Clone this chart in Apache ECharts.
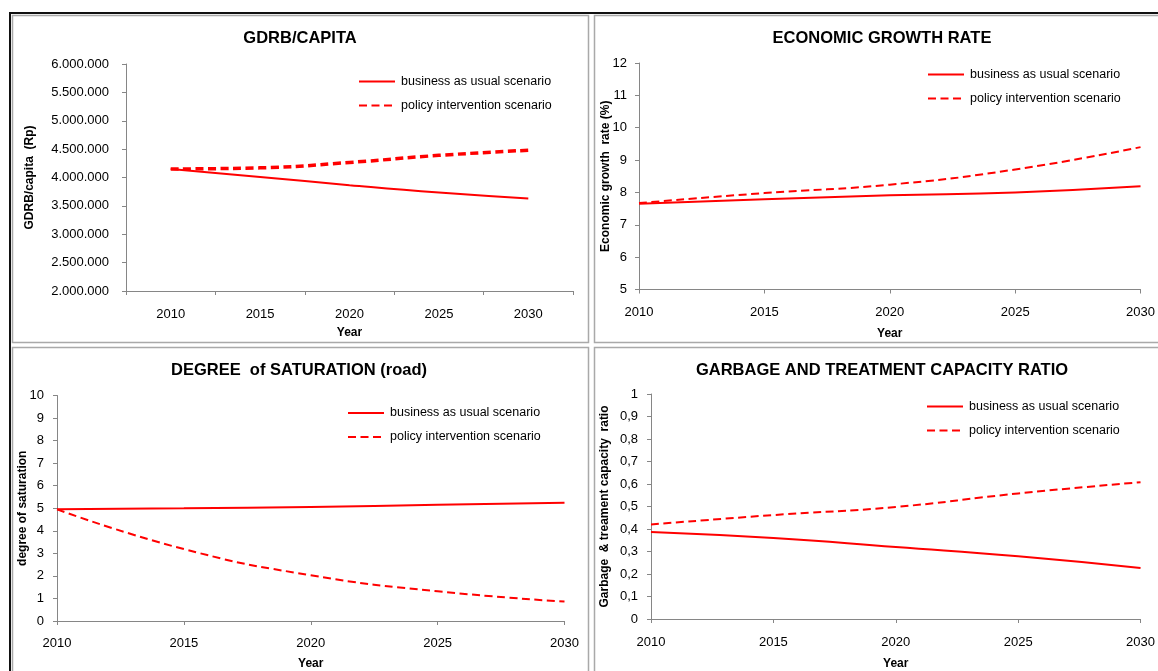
<!DOCTYPE html>
<html>
<head>
<meta charset="utf-8">
<script src="https://cdn.jsdelivr.net/npm/echarts@6/dist/echarts.min.js"></script>
<style>
html,body{margin:0;padding:0;background:#fff;}
#c{width:1158px;height:671px;}
</style>
</head>
<body>
<div id="c"></div>
<script>
// ---- data ----
const years = ['2010', '2015', '2020', '2025', '2030'];
const seriesNames = ['business as usual scenario', 'policy intervention scenario'];

const gdrbBAU = [4150000, 4010000, 3865000, 3735000, 3630000];
const gdrbPolicy = [4150000, 4170000, 4265000, 4390000, 4480000];

const growthBAU = [7.65, 7.79, 7.91, 8.0, 8.19];
const growthPolicy = [7.67, 7.98, 8.24, 8.71, 9.40];

const saturationBAU = [4.96, 5.0, 5.06, 5.15, 5.24];
const saturationPolicy = [4.95, 3.19, 2.03, 1.32, 0.86];

const garbageBAU = [0.387, 0.36, 0.32, 0.279, 0.227];
const garbagePolicy = [0.42, 0.462, 0.498, 0.558, 0.608];

const titles = ['GDRB/CAPITA', 'ECONOMIC GROWTH RATE', 'DEGREE  of SATURATION (road)', 'GARBAGE AND TREATMENT CAPACITY RATIO'];
const yNames = ['GDRB/capita  (Rp)', 'Economic growth  rate (%)', 'degree of saturation', 'Garbage  & treament capacity  ratio'];
const xName = 'Year';

// ---- styling ----
const FONT = '"Liberation Sans", Arial, sans-serif';
const RED = '#ff0000';
const AX = '#868686';

const chart = echarts.init(document.getElementById('c'), null, {renderer: 'canvas'});

const dotFmt = v => String(Math.round(v)).replace(/\B(?=(\d{3})+(?!\d))/g, '.');
const commaFmt = v => String(+(+v).toFixed(1)).replace('.', ',');

const grids = [
  {left: 126, top: 64, width: 447, height: 227},
  {left: 639, top: 63, width: 507, height: 226.5},
  {left: 57, top: 395.5, width: 507.5, height: 226.5},
  {left: 651, top: 394, width: 495, height: 226}
];

const yCfg = [
  {min: 2000000, max: 6000000, interval: 500000, fmt: dotFmt, gap: 90},
  {min: 5, max: 12, interval: 1, fmt: null, gap: 27},
  {min: 0, max: 10, interval: 1, fmt: null, gap: 28},
  {min: 0, max: 1, interval: 0.1, fmt: commaFmt, gap: 40}
];
const xGaps = [36, 38, 37, 39];
const labelMargins = [17, 16, 16, 17];
const yLabelMargins = [17, 12, 13, 13];

const xAxes = grids.map((g, i) => ({
  type: 'category', gridIndex: i, data: years,
  boundaryGap: i === 0,
  name: xName, nameLocation: 'middle', nameGap: xGaps[i], nameMoveOverlap: false,
  nameTextStyle: {fontFamily: FONT, fontWeight: 'bold', fontSize: 12, color: '#000'},
  axisLine: {lineStyle: {color: AX, width: 1}},
  axisTick: {show: true, length: 4, lineStyle: {color: AX}},
  axisLabel: {fontFamily: FONT, fontSize: 13, color: '#000', margin: labelMargins[i], interval: 0},
  splitLine: {show: false}
}));

const yAxes = grids.map((g, i) => ({
  type: 'value', gridIndex: i,
  min: yCfg[i].min, max: yCfg[i].max, interval: yCfg[i].interval,
  name: yNames[i], nameLocation: 'middle', nameGap: yCfg[i].gap, nameRotate: 90,
  nameMoveOverlap: false,
  nameTextStyle: {fontFamily: FONT, fontWeight: 'bold', fontSize: 12, color: '#000'},
  axisLine: {show: true, lineStyle: {color: AX, width: 1}},
  axisTick: {show: true, length: 4, lineStyle: {color: AX}},
  axisLabel: {fontFamily: FONT, fontSize: 13, color: '#000', margin: yLabelMargins[i],
    formatter: yCfg[i].fmt || undefined},
  splitLine: {show: false}
}));

const dataSets = [
  [gdrbBAU, gdrbPolicy],
  [growthBAU, growthPolicy],
  [saturationBAU, saturationPolicy],
  [garbageBAU, garbagePolicy]
];

const series = [];
dataSets.forEach((pair, i) => {
  series.push({
    type: 'line', name: seriesNames[0], xAxisIndex: i, yAxisIndex: i,
    data: pair[0], smooth: true, symbol: 'none', silent: true,
    lineStyle: {color: RED, width: 2, type: 'solid'},
    itemStyle: {color: RED}
  });
  series.push({
    type: 'line', name: seriesNames[1], xAxisIndex: i, yAxisIndex: i,
    data: pair[1], smooth: true, symbol: 'none', silent: true,
    lineStyle: {color: RED, width: i === 0 ? 3.5 : 2, type: [8, 4.5]},
    itemStyle: {color: RED}
  });
});

const legendPos = [
  {left: 358, top: 75},
  {left: 927, top: 68},
  {left: 347, top: 406.5},
  {left: 926, top: 400}
];
const legends = legendPos.map(p => ({
  left: p.left, top: p.top, orient: 'vertical', padding: 0,
  itemGap: 11, itemWidth: 36, itemHeight: 14,
  data: seriesNames, selectedMode: false,
  lineStyle: {width: 2},
  itemStyle: {opacity: 0, color: 'rgba(0,0,0,0)', borderColor: 'rgba(0,0,0,0)', borderWidth: 0},
  textStyle: {fontFamily: FONT, fontSize: 12.5, color: '#000', padding: [0, 0, 0, 1]}
}));

const titlePos = [
  {x: 300, y: 38}, {x: 882, y: 38}, {x: 299, y: 370}, {x: 882, y: 370}
];

const panelRects = [
  {x: 12, y: 15, w: 576, h: 327},
  {x: 594, y: 15, w: 600, h: 327},
  {x: 12, y: 347, w: 576, h: 360},
  {x: 594, y: 347, w: 600, h: 360}
];

const graphics = [];
panelRects.forEach(r => graphics.push({
  type: 'rect', z: -10, silent: true,
  shape: {x: r.x + 0.5, y: r.y + 0.5, width: r.w, height: r.h},
  style: {fill: '#fff', stroke: '#a9a9a9', lineWidth: 1.5}
}));
graphics.push({type: 'line', z: -5, silent: true,
  shape: {x1: 9, y1: 13, x2: 1160, y2: 13}, style: {stroke: '#111', lineWidth: 2}});
graphics.push({type: 'line', z: -5, silent: true,
  shape: {x1: 10, y1: 12, x2: 10, y2: 680}, style: {stroke: '#111', lineWidth: 2}});
titles.forEach((t, i) => graphics.push({
  type: 'text', silent: true, x: titlePos[i].x, y: titlePos[i].y,
  style: {text: t, fontFamily: FONT, fontWeight: 'bold', fontSize: 16.5, fill: '#000',
    textAlign: 'center', textVerticalAlign: 'middle'}
}));

chart.setOption({
  animation: false,
  backgroundColor: '#fff',
  grid: grids,
  xAxis: xAxes,
  yAxis: yAxes,
  legend: legends,
  series: series,
  graphic: graphics
});
</script>
</body>
</html>
